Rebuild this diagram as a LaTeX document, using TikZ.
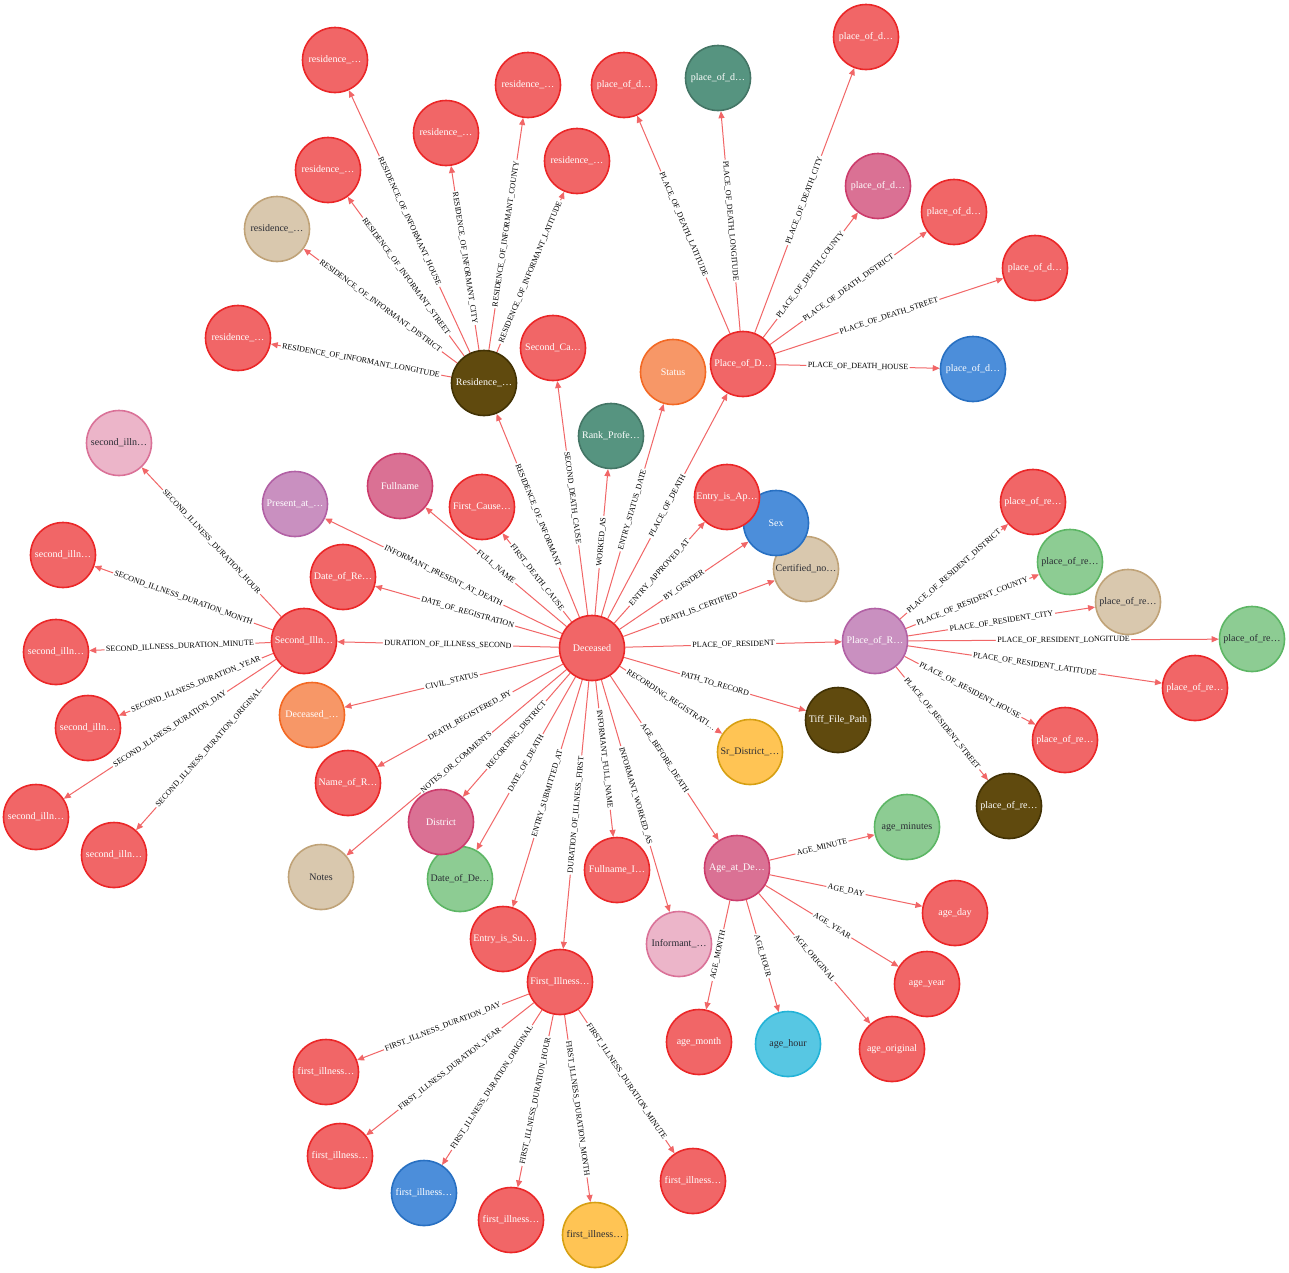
\documentclass[tikz,border=0pt]{standalone}
\usepackage{fontspec}
\setmainfont{Liberation Serif}
\usetikzlibrary{arrows.meta}
\definecolor{redF}{HTML}{F16667}\definecolor{redD}{HTML}{EB2728}
\definecolor{brownF}{HTML}{604A0E}\definecolor{brownD}{HTML}{423204}
\definecolor{tanF}{HTML}{D9C8AE}\definecolor{tanD}{HTML}{C0A378}
\definecolor{dgreenF}{HTML}{569480}\definecolor{dgreenD}{HTML}{447666}
\definecolor{pinkF}{HTML}{DA7194}\definecolor{pinkD}{HTML}{CC3C6C}
\definecolor{purpleF}{HTML}{C990C0}\definecolor{purpleD}{HTML}{B261A5}
\definecolor{orangeF}{HTML}{F79767}\definecolor{orangeD}{HTML}{F36924}
\definecolor{blueF}{HTML}{4C8EDA}\definecolor{blueD}{HTML}{2870C2}
\definecolor{yellowF}{HTML}{FFC454}\definecolor{yellowD}{HTML}{D7A013}
\definecolor{lgreenF}{HTML}{8DCC93}\definecolor{lgreenD}{HTML}{5DB665}
\definecolor{lpinkF}{HTML}{ECB5C9}\definecolor{lpinkD}{HTML}{DA7298}
\definecolor{cyanF}{HTML}{57C7E3}\definecolor{cyanD}{HTML}{23B3D7}
\definecolor{darktxt}{HTML}{2A2C34}
\definecolor{edgec}{HTML}{F16667}
\pgfdeclarelayer{back}\pgfdeclarelayer{edges}
\pgfsetlayers{back,edges,main}
\tikzset{
  nd/.style={circle,minimum size=65,inner sep=0,line width=1.6,font=\fontsize{10}{12}\selectfont},
  nred/.style={nd,fill=redF,draw=redD,text=white},
  nbrown/.style={nd,fill=brownF,draw=brownD,text=white},
  ntan/.style={nd,fill=tanF,draw=tanD,text=darktxt},
  ndgreen/.style={nd,fill=dgreenF,draw=dgreenD,text=white},
  npink/.style={nd,fill=pinkF,draw=pinkD,text=white},
  npurple/.style={nd,fill=purpleF,draw=purpleD,text=white},
  norange/.style={nd,fill=orangeF,draw=orangeD,text=white},
  nblue/.style={nd,fill=blueF,draw=blueD,text=white},
  nyellow/.style={nd,fill=yellowF,draw=yellowD,text=darktxt},
  nlgreen/.style={nd,fill=lgreenF,draw=lgreenD,text=darktxt},
  nlpink/.style={nd,fill=lpinkF,draw=lpinkD,text=darktxt},
  ncyan/.style={nd,fill=cyanF,draw=cyanD,text=darktxt},
  rel/.style={draw=edgec,line width=1,-{Triangle[length=7,width=6]}},
  lab/.style={sloped,fill=white,inner sep=1.5,font=\fontsize{8}{9}\selectfont,text=black}
}
\begin{document}
\begin{tikzpicture}[x=1pt,y=-1pt]
\begin{pgfonlayer}{back}
\fill[white] (0,0) rectangle (1289,1272);
\end{pgfonlayer}
\useasboundingbox (0,0) rectangle (1289,1272);
% hubs
\node[nred] (dec) at (592,648) {Deceased};
\node[nbrown] (res) at (484,383) {Residence\_…};
\node[nred] (pod) at (743,364) {Place\_of\_D…};
\node[npurple] (por) at (875,641) {Place\_of\_R…};
\node[nred] (sil) at (304,641) {Second\_Illn…};
\node[nred] (fil) at (560,982) {First\_Illness…};
\node[npink] (age) at (737,868) {Age\_at\_De…};
% direct children of Deceased
\node[nred] (sca) at (553,348) {Second\_Ca…};
\node[ndgreen] (rank) at (611,436) {Rank\_Profe…};
\node[norange] (status) at (673,372) {Status};
\node[ntan] (cert) at (806,569) {Certified\_no…};
\node[nblue] (sex) at (776,523) {Sex};
\node[nred] (eap) at (727,497) {Entry\_is\_Ap…};
\node[nbrown] (tiff) at (838,720) {Tiff\_File\_Path};
\node[nyellow] (srd) at (750,752) {Sr\_District\_…};
\node[nlpink] (inf) at (679,944) {Informant\_…};
\node[nred] (fni) at (617,870) {Fullname\_I…};
\node[nred] (esu) at (503,939) {Entry\_is\_Su…};
\node[nlgreen] (dod) at (460,879) {Date\_of\_De…};
\node[npink] (dist) at (441,822) {District};
\node[ntan] (notes) at (321,877) {Notes};
\node[nred] (nor) at (348,783) {Name\_of\_R…};
\node[norange] (dcs) at (312,715) {Deceased\_…};
\node[nred] (dor) at (343,577) {Date\_of\_Re…};
\node[npurple] (pat) at (295,504) {Present\_at\_…};
\node[npink] (fname) at (400,486) {Fullname};
\node[nred] (fca) at (482,507) {First\_Cause…};
% residence children
\node[nred] (rhouse) at (335,60) {residence\_…};
\node[nred] (rcity) at (446,133) {residence\_…};
\node[nred] (rcounty) at (528,85) {residence\_…};
\node[nred] (rlat) at (577,161) {residence\_…};
\node[nred] (rstreet) at (328,170) {residence\_…};
\node[ntan] (rdist) at (277,229) {residence\_…};
\node[nred] (rlon) at (238,338) {residence\_…};
% place of death children
\node[nred] (dlat) at (624,85) {place\_of\_d…};
\node[ndgreen] (dlon) at (718,78) {place\_of\_d…};
\node[nred] (dcity) at (866,37) {place\_of\_d…};
\node[npink] (dcounty) at (878,186) {place\_of\_d…};
\node[nred] (ddist) at (954,212) {place\_of\_d…};
\node[nred] (dstreet) at (1035,268) {place\_of\_d…};
\node[nblue] (dhouse) at (973,369) {place\_of\_d…};
% place of resident children
\node[nred] (pdist) at (1033,502) {place\_of\_re…};
\node[nlgreen] (pcounty) at (1070,562) {place\_of\_re…};
\node[ntan] (pcity) at (1128,602) {place\_of\_re…};
\node[nlgreen] (plon) at (1252,639) {place\_of\_re…};
\node[nred] (plat) at (1195,688) {place\_of\_re…};
\node[nred] (phouse) at (1065,740) {place\_of\_re…};
\node[nbrown] (pstreet) at (1009,806) {place\_of\_re…};
% second illness children
\node[nlpink] (shour) at (119,443) {second\_illn…};
\node[nred] (smonth) at (63,555) {second\_illn…};
\node[nred] (sminute) at (56,652) {second\_illn…};
\node[nred] (syear) at (88,728) {second\_illn…};
\node[nred] (sday) at (36,817) {second\_illn…};
\node[nred] (sorig) at (114,855) {second\_illn…};
% first illness children
\node[nred] (fday) at (326,1072) {first\_illness…};
\node[nred] (fyear) at (340,1156) {first\_illness…};
\node[nblue] (forig) at (424,1193) {first\_illness…};
\node[nred] (fhour) at (511,1220) {first\_illness…};
\node[nyellow] (fmonth) at (595,1235) {first\_illness…};
\node[nred] (fminute) at (693,1181) {first\_illness…};
% age children
\node[nlgreen] (amin) at (907,827) {age\_minutes};
\node[nred] (aday) at (955,913) {age\_day};
\node[nred] (ayear) at (927,984) {age\_year};
\node[nred] (aorig) at (892,1049) {age\_original};
\node[ncyan] (ahour) at (788,1044) {age\_hour};
\node[nred] (amonth) at (699,1042) {age\_month};

\begin{pgfonlayer}{edges}
% Deceased
\draw[rel] (dec) -- node[lab]{RESIDENCE\_OF\_INFORMANT} (res);
\draw[rel] (dec) -- node[lab]{SECOND\_DEATH\_CAUSE} (sca);
\draw[rel] (dec) -- node[lab]{WORKED\_AS} (rank);
\draw[rel] (dec) -- node[lab]{ENTRY\_STATUS\_DATE} (status);
\draw[rel] (dec) -- node[lab]{PLACE\_OF\_DEATH} (pod);
\draw[rel] (dec) -- node[lab]{ENTRY\_APPROVED\_AT} (eap);
\draw[rel] (dec) -- node[lab]{BY\_GENDER} (sex);
\draw[rel] (dec) -- node[lab]{DEATH\_IS\_CERTIFIED} (cert);
\draw[rel] (dec) -- node[lab]{PLACE\_OF\_RESIDENT} (por);
\draw[rel] (dec) -- node[lab]{PATH\_TO\_RECORD} (tiff);
\draw[rel] (dec) -- node[lab]{RECORDING\_REGISTRATI…} (srd);
\draw[rel] (dec) -- node[lab]{AGE\_BEFORE\_DEATH} (age);
\draw[rel] (dec) -- node[lab]{INFORMANT\_WORKED\_AS} (inf);
\draw[rel] (dec) -- node[lab]{INFORMANT\_FULL\_NAME} (fni);
\draw[rel] (dec) -- node[lab]{DURATION\_OF\_ILLNESS\_FIRST} (fil);
\draw[rel] (dec) -- node[lab]{ENTRY\_SUBMITTED\_AT} (esu);
\draw[rel] (dec) -- node[lab]{DATE\_OF\_DEATH} (dod);
\draw[rel] (dec) -- node[lab]{RECORDING\_DISTRICT} (dist);
\draw[rel] (dec) -- node[lab]{NOTES\_OR\_COMMENTS} (notes);
\draw[rel] (dec) -- node[lab]{DEATH\_REGISTERED\_BY} (nor);
\draw[rel] (dec) -- node[lab]{CIVIL\_STATUS} (dcs);
\draw[rel] (dec) -- node[lab]{DURATION\_OF\_ILLNESS\_SECOND} (sil);
\draw[rel] (dec) -- node[lab]{DATE\_OF\_REGISTRATION} (dor);
\draw[rel] (dec) -- node[lab]{INFORMANT\_PRESENT\_AT\_DEATH} (pat);
\draw[rel] (dec) -- node[lab]{FULL\_NAME} (fname);
\draw[rel] (dec) -- node[lab]{FIRST\_DEATH\_CAUSE} (fca);
% Residence
\draw[rel] (res) -- node[lab]{RESIDENCE\_OF\_INFORMANT\_HOUSE} (rhouse);
\draw[rel] (res) -- node[lab]{RESIDENCE\_OF\_INFORMANT\_CITY} (rcity);
\draw[rel] (res) -- node[lab]{RESIDENCE\_OF\_INFORMANT\_COUNTY} (rcounty);
\draw[rel] (res) -- node[lab]{RESIDENCE\_OF\_INFORMANT\_LATITUDE} (rlat);
\draw[rel] (res) -- node[lab]{RESIDENCE\_OF\_INFORMANT\_STREET} (rstreet);
\draw[rel] (res) -- node[lab]{RESIDENCE\_OF\_INFORMANT\_DISTRICT} (rdist);
\draw[rel] (res) -- node[lab]{RESIDENCE\_OF\_INFORMANT\_LONGITUDE} (rlon);
% Place of death
\draw[rel] (pod) -- node[lab]{PLACE\_OF\_DEATH\_LATITUDE} (dlat);
\draw[rel] (pod) -- node[lab]{PLACE\_OF\_DEATH\_LONGITUDE} (dlon);
\draw[rel] (pod) -- node[lab]{PLACE\_OF\_DEATH\_CITY} (dcity);
\draw[rel] (pod) -- node[lab]{PLACE\_OF\_DEATH\_COUNTY} (dcounty);
\draw[rel] (pod) -- node[lab]{PLACE\_OF\_DEATH\_DISTRICT} (ddist);
\draw[rel] (pod) -- node[lab]{PLACE\_OF\_DEATH\_STREET} (dstreet);
\draw[rel] (pod) -- node[lab]{PLACE\_OF\_DEATH\_HOUSE} (dhouse);
% Place of resident
\draw[rel] (por) -- node[lab]{PLACE\_OF\_RESIDENT\_DISTRICT} (pdist);
\draw[rel] (por) -- node[lab]{PLACE\_OF\_RESIDENT\_COUNTY} (pcounty);
\draw[rel] (por) -- node[lab]{PLACE\_OF\_RESIDENT\_CITY} (pcity);
\draw[rel] (por) -- node[lab]{PLACE\_OF\_RESIDENT\_LONGITUDE} (plon);
\draw[rel] (por) -- node[lab]{PLACE\_OF\_RESIDENT\_LATITUDE} (plat);
\draw[rel] (por) -- node[lab]{PLACE\_OF\_RESIDENT\_HOUSE} (phouse);
\draw[rel] (por) -- node[lab]{PLACE\_OF\_RESIDENT\_STREET} (pstreet);
% Second illness
\draw[rel] (sil) -- node[lab]{SECOND\_ILLNESS\_DURATION\_HOUR} (shour);
\draw[rel] (sil) -- node[lab]{SECOND\_ILLNESS\_DURATION\_MONTH} (smonth);
\draw[rel] (sil) -- node[lab]{SECOND\_ILLNESS\_DURATION\_MINUTE} (sminute);
\draw[rel] (sil) -- node[lab]{SECOND\_ILLNESS\_DURATION\_YEAR} (syear);
\draw[rel] (sil) -- node[lab]{SECOND\_ILLNESS\_DURATION\_DAY} (sday);
\draw[rel] (sil) -- node[lab]{SECOND\_ILLNESS\_DURATION\_ORIGINAL} (sorig);
% First illness
\draw[rel] (fil) -- node[lab]{FIRST\_ILLNESS\_DURATION\_DAY} (fday);
\draw[rel] (fil) -- node[lab]{FIRST\_ILLNESS\_DURATION\_YEAR} (fyear);
\draw[rel] (fil) -- node[lab]{FIRST\_ILLNESS\_DURATION\_ORIGINAL} (forig);
\draw[rel] (fil) -- node[lab]{FIRST\_ILLNESS\_DURATION\_HOUR} (fhour);
\draw[rel] (fil) -- node[lab]{FIRST\_ILLNESS\_DURATION\_MONTH} (fmonth);
\draw[rel] (fil) -- node[lab]{FIRST\_ILLNESS\_DURATION\_MINUTE} (fminute);
% Age
\draw[rel] (age) -- node[lab]{AGE\_MINUTE} (amin);
\draw[rel] (age) -- node[lab]{AGE\_DAY} (aday);
\draw[rel] (age) -- node[lab]{AGE\_YEAR} (ayear);
\draw[rel] (age) -- node[lab]{AGE\_ORIGINAL} (aorig);
\draw[rel] (age) -- node[lab]{AGE\_HOUR} (ahour);
\draw[rel] (age) -- node[lab]{AGE\_MONTH} (amonth);
\end{pgfonlayer}
\end{tikzpicture}
\end{document}
